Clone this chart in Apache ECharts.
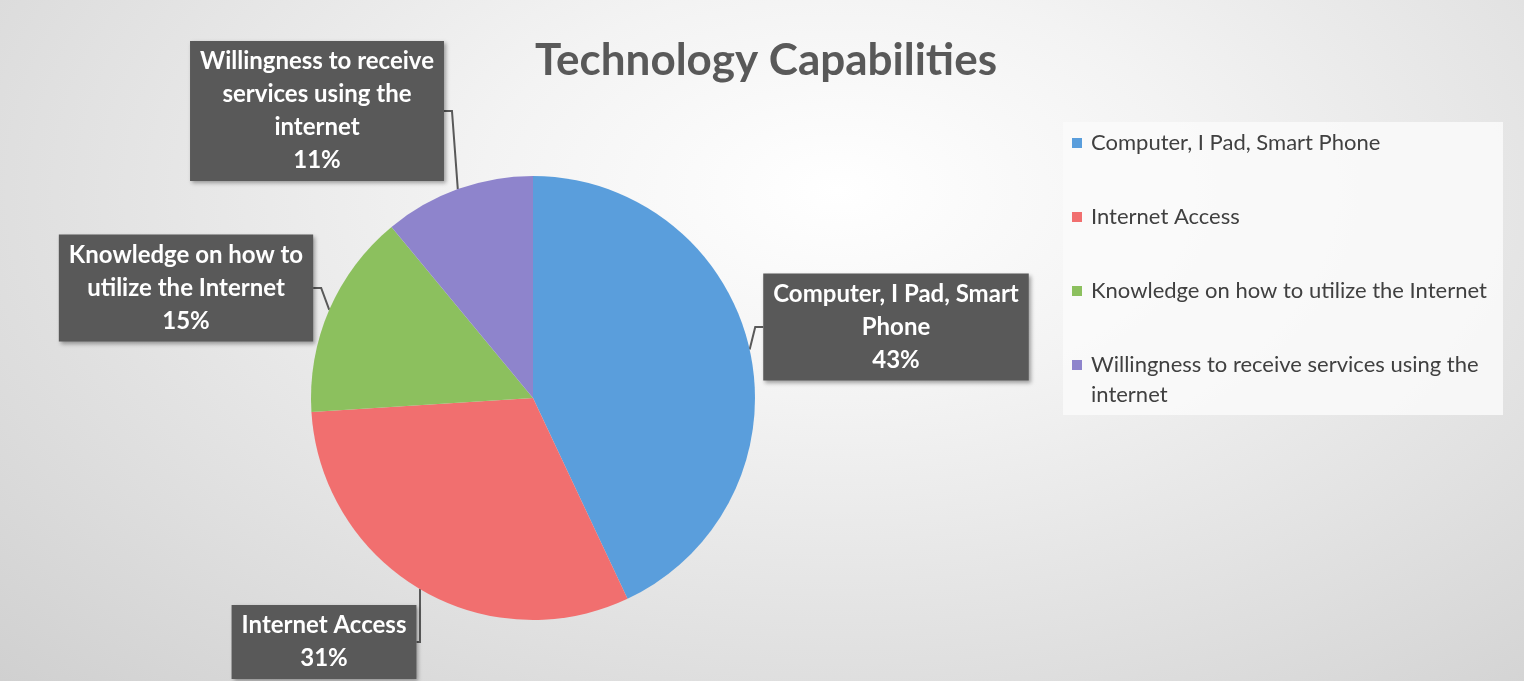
<!DOCTYPE html>
<html>
<head>
<meta charset="utf-8">
<script src="https://cdn.jsdelivr.net/npm/echarts@6/dist/echarts.min.js"></script>
<style>
html,body{margin:0;padding:0;background:#fff;}
#main{width:1524px;height:681px;background:radial-gradient(ellipse at 55% 28%, #ffffff 0%, #f3f3f3 30%, #d0d0d0 100%);}
</style>
</head>
<body>
<div id="main"></div>
<script>
var categories = ['Computer, I Pad, Smart Phone', 'Internet Access', 'Knowledge on how to utilize the Internet', 'Willingness to receive services using the internet'];
var values = [43, 31, 15, 11];
// wrapped texts as they appear in the callouts / legend
var calloutNames = ['Computer, I Pad, Smart\nPhone', 'Internet Access', 'Knowledge on how to\nutilize the Internet', 'Willingness to receive\nservices using the\ninternet'];
var legendNames = ['Computer, I Pad, Smart Phone', 'Internet Access', 'Knowledge on how to utilize the Internet', 'Willingness to receive services using the\ninternet'];
var colors = ['#5a9edc', '#f16f6f', '#8cc05e', '#8e84cc'];

// callout box centres (layout only)
var calloutPos = [[896, 327], [324, 642], [186, 288], [317, 111]];

var dom = document.getElementById('main');
var myChart = echarts.init(dom);

var pieData = [];
for (var i = 0; i < categories.length; i++) {
	pieData.push({ name: categories[i], value: values[i] });
}

var option = {
	color: colors,
	title: {
		text: 'Technology Capabilities',
		left: 761,
		top: 34,
		textAlign: 'center',
		textStyle: { fontFamily: 'Lato', fontWeight: 'bold', fontSize: 44, color: '#595959' }
	},
	graphic: [{
		type: 'rect',
		left: 1063, top: 122,
		shape: { width: 440, height: 293 },
		style: { fill: 'rgba(250,250,250,0.85)' },
		z: -1
	}],
	legend: {
		orient: 'vertical',
		left: 1072,
		top: 98,
		padding: 0,
		itemGap: -16,
		itemWidth: 10,
		itemHeight: 10,
		icon: 'rect',
		data: categories,
		// every entry is 3 lines tall so the name sits on the icon row
		formatter: function (name) {
			var t = legendNames[categories.indexOf(name)];
			return t.indexOf('\n') >= 0 ? '\n' + t : '\n' + t + '\n';
		},
		textStyle: { fontFamily: 'Lato', fontSize: 22, color: '#404040', lineHeight: 30, padding: [0, 0, 0, 4] }
	},
	series: [{
		type: 'pie',
		center: [533, 398],
		radius: 222,
		startAngle: 90,
		data: pieData,
		label: {
			show: true,
			position: 'outside',
			formatter: function (p) {
				return calloutNames[p.dataIndex] + '\n' + p.value + '%';
			},
			fontFamily: 'Lato',
			fontWeight: 'bold',
			fontSize: 24,
			lineHeight: 33,
			color: '#ffffff',
			align: 'center',
			backgroundColor: '#595959',
			padding: [4, 10],
			shadowColor: 'rgba(0,0,0,0.35)',
			shadowBlur: 4,
			shadowOffsetX: 2,
			shadowOffsetY: 2
		},
		labelLine: {
			show: true,
			length: 8,
			length2: 8,
			lineStyle: { color: '#595959', width: 2 }
		},
		labelLayout: function (p) {
			var pos = calloutPos[p.dataIndex];
			return { x: pos[0], y: pos[1], align: 'center', verticalAlign: 'middle' };
		},
		emphasis: { disabled: true }
	}]
};
myChart.setOption(option);
</script>
</body>
</html>
